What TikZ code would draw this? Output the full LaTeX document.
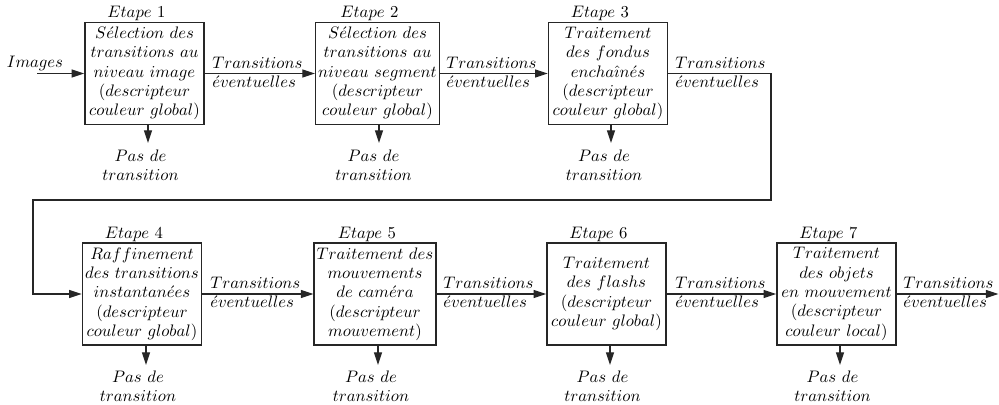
\documentclass[tikz,border=0pt]{standalone}
\usetikzlibrary{arrows.meta}
\newcommand{\eac}{\acute{e}}
\newcommand{\iac}{\hat{\imath}}
\begin{document}
\begin{tikzpicture}[x=0.6pt,y=-0.6pt,
  every node/.style={font=\fontsize{10}{11.6}\selectfont},
  stepbox/.style={draw=black!85,line width=0.9pt,minimum width=71.4pt,minimum height=61.2pt,inner xsep=1.5pt,inner ysep=1pt,align=center},
  lab/.style={inner sep=0pt,align=center},
  tlab/.style={inner sep=0pt,align=left,anchor=west},
  arr/.style={draw=black!85,line width=0.8pt,-{Triangle[length=7.6pt,width=4.8pt]}}]
\useasboundingbox (0,0) rectangle (999,405);
% row 1 boxes
\node[stepbox] (b1) at (144.5,73.5) {$S\eac lection\ des$\\ $transitions\ au$\\ $niveau\ image$\\ $(descripteur$\\ $couleur\ global)$};
\node[stepbox] (b2) at (377.5,73.5) {$S\eac lection\ des$\\ $transitions\ au$\\ $niveau\ segment$\\ $(descripteur$\\ $couleur\ global)$};
\node[stepbox] (b3) at (608,73.5) {$Traitement$\\ $des\ fondus$\\ $encha\iac n\eac s$\\ $(descripteur$\\ $couleur\ global)$};
% row 2 boxes
\node[stepbox] (b4) at (142,294) {$Raffinement$\\ $des\ transitions$\\ $instantan\eac es$\\ $(descripteur$\\ $couleur\ global)$};
\node[stepbox] (b5) at (375,294) {$Traitement\ des$\\ $mouvements$\\ $de\ cam\eac ra$\\ $(descripteur$\\ $mouvement)$};
\node[stepbox] (b6) at (606.5,294) {$Traitement$\\ $des\ flashs$\\ $(descripteur$\\ $couleur\ global)$};
\node[stepbox] (b7) at (836.5,294) {$Traitement$\\ $des\ objets$\\ $en\ mouvement$\\ $(descripteur$\\ $couleur\ local)$};
% step labels
\node[lab] (e1) at (136.5,13.5) {$Etape\ 1$};
\node[lab] (e2) at (369.5,13.5) {$Etape\ 2$};
\node[lab] (e3) at (600,13.5) {$Etape\ 3$};
\node[lab] (e4) at (134,234.5) {$Etape\ 4$};
\node[lab] (e5) at (367,234.5) {$Etape\ 5$};
\node[lab] (e6) at (598.5,234.5) {$Etape\ 6$};
\node[lab] (e7) at (828.5,234.5) {$Etape\ 7$};
% no-transition labels
\node[lab] (p1) at (140.5,165.5) {$Pas\ de$\\ $transition$};
\node[lab] (p2) at (373.5,165.5) {$Pas\ de$\\ $transition$};
\node[lab] (p3) at (604,165.5) {$Pas\ de$\\ $transition$};
\node[lab] (p4) at (138,386) {$Pas\ de$\\ $transition$};
\node[lab] (p5) at (371,386) {$Pas\ de$\\ $transition$};
\node[lab] (p6) at (602.5,386) {$Pas\ de$\\ $transition$};
\node[lab] (p7) at (832.5,386) {$Pas\ de$\\ $transition$};
\coordinate (d1) at (148,143);
\coordinate (d2) at (379,143);
\coordinate (d3) at (611,143);
\coordinate (d4) at (146,365);
\coordinate (d5) at (378,365);
\coordinate (d6) at (610,365);
\coordinate (d7) at (840,365);
\foreach \i in {1,...,7} {\draw[arr] (b\i.south -| d\i) -- (d\i);}
% transitions labels
\node[tlab] (t1) at (212,72.5) {$Transitions$\\ $\eac ventuelles$};
\node[tlab] (t2) at (446,72.5) {$Transitions$\\ $\eac ventuelles$};
\node[tlab] (t3) at (675,72.5) {$Transitions$\\ $\eac ventuelles$};
\node[tlab] (t4) at (210,292.5) {$Transitions$\\ $\eac ventuelles$};
\node[tlab] (t5) at (443,292.5) {$Transitions$\\ $\eac ventuelles$};
\node[tlab] (t6) at (675,292.5) {$Transitions$\\ $\eac ventuelles$};
\node[tlab] (t7) at (903,292.5) {$Transitions$\\ $\eac ventuelles$};
% input
\node[lab] (img) at (35,63) {$Images$};
\coordinate (in) at (37,73.5);
\draw[arr] (in) -- (b1.west);
% flow
\draw[arr] (b1.east) -- (b2.west);
\draw[arr] (b2.east) -- (b3.west);
\coordinate (k1) at (771,200);
\coordinate (k2) at (33,200);
\draw[arr] (b3.east) -| (k1) -- (k2) |- (b4.west);
\draw[arr] (b4.east) -- (b5.west);
\draw[arr] (b5.east) -- (b6.west);
\draw[arr] (b6.east) -- (b7.west);
\coordinate (out) at (998.5,294);
\draw[arr] (b7.east) -- (out);
\end{tikzpicture}
\end{document}
